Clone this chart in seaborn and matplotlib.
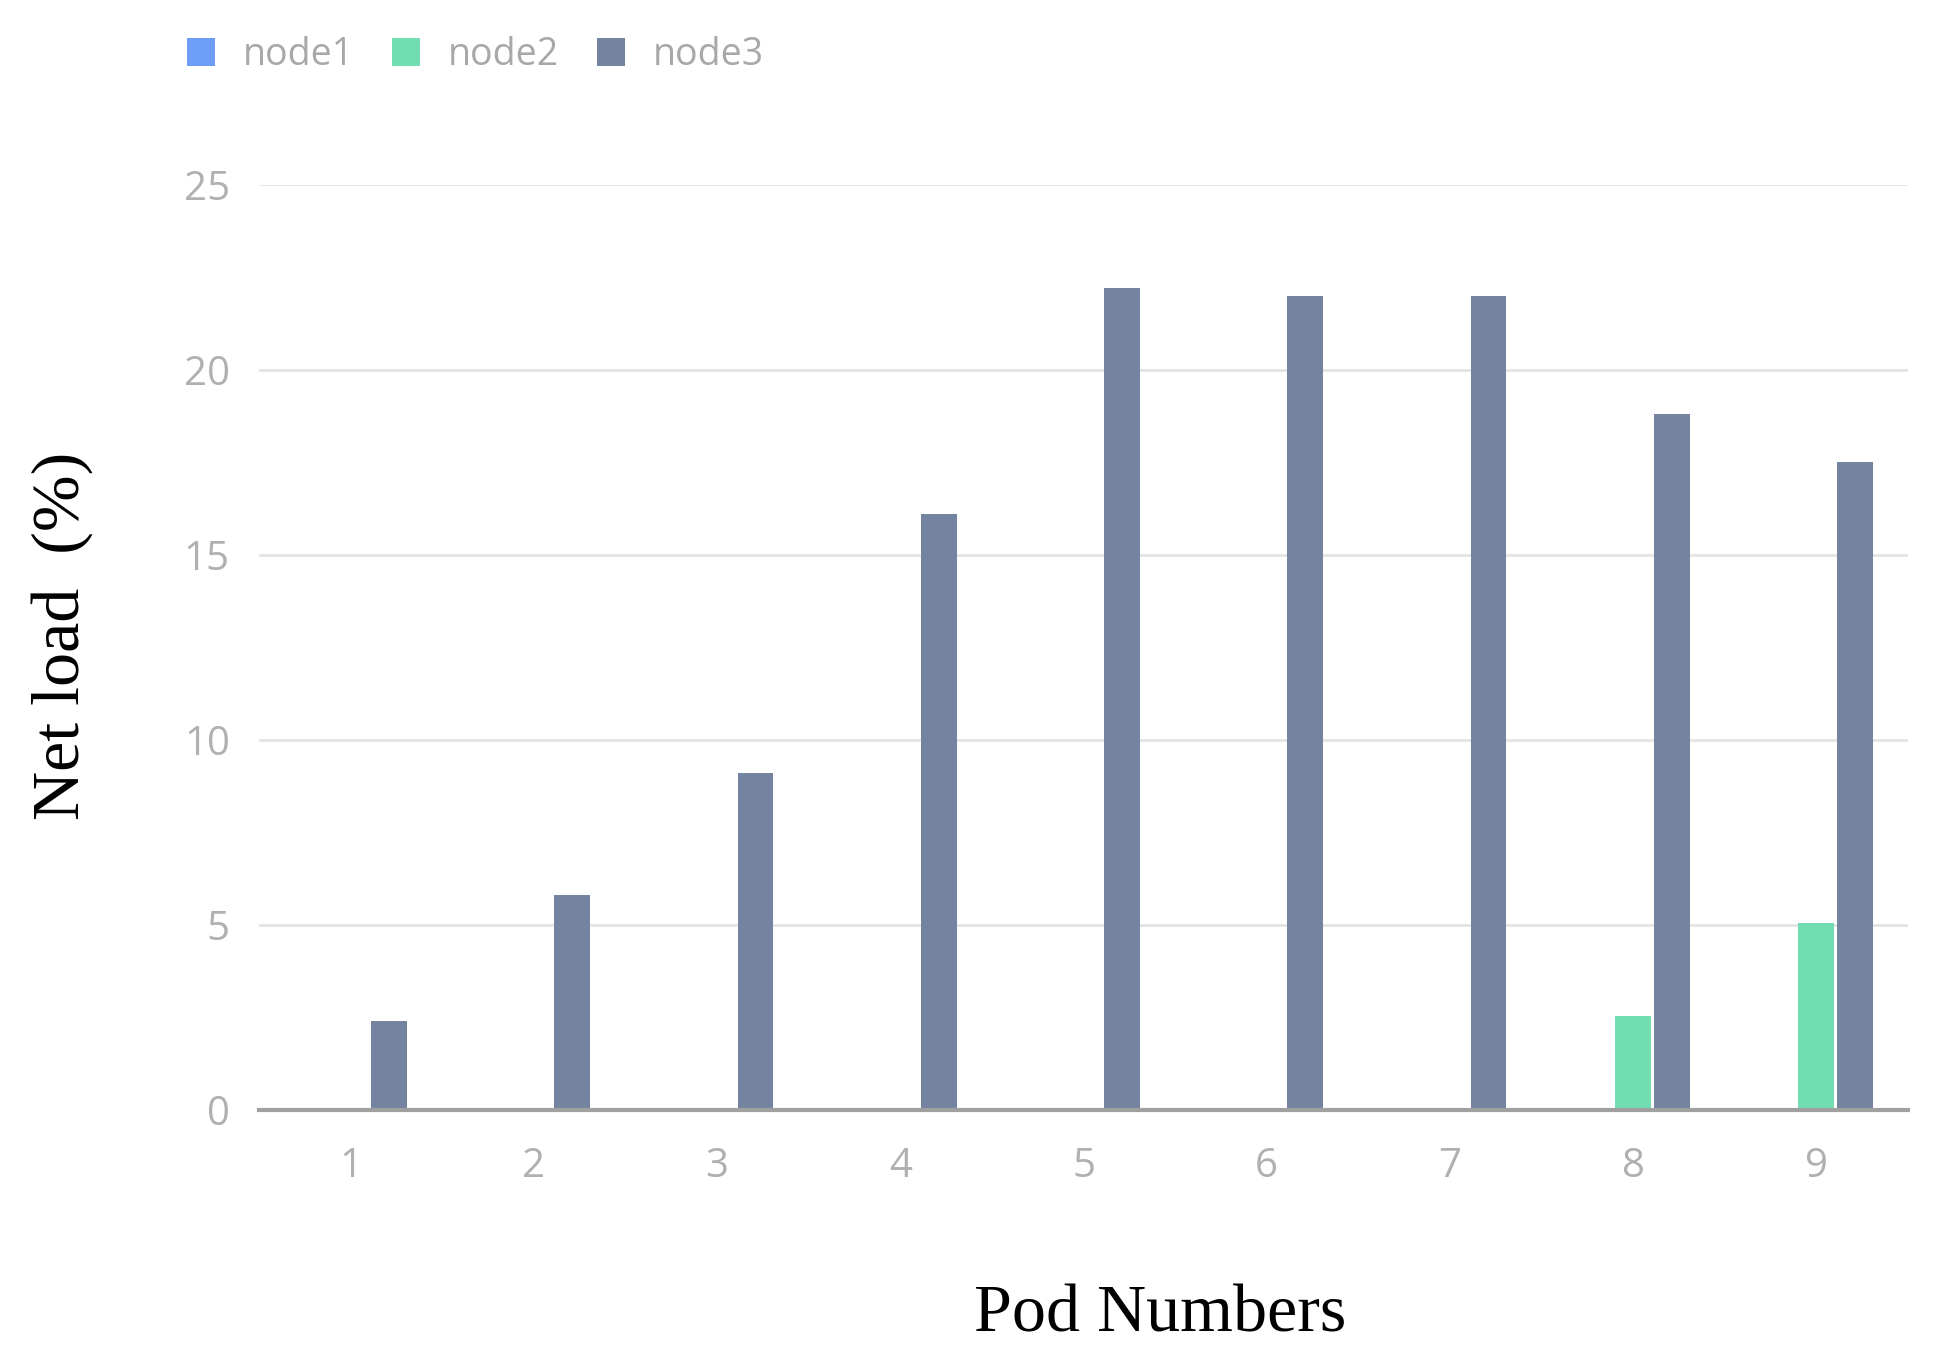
import matplotlib.pyplot as plt
import pandas as pd
import seaborn as sns

# values
pods = [1, 2, 3, 4, 5, 6, 7, 8, 9]
node1 = [0, 0, 0, 0, 0, 0, 0, 0, 0]
node2 = [0, 0, 0, 0, 0, 0, 0, 2.55, 5.05]
node3 = [2.4, 5.8, 9.1, 16.1, 22.2, 22.0, 22.0, 18.8, 17.5]
nodes = ["node1", "node2", "node3"]
colors = ["#6E9EF8", "#72DDB1", "#7483A0"]

df = pd.DataFrame({"pod": pods, "node1": node1, "node2": node2, "node3": node3})
df = df.melt(id_vars="pod", var_name="node", value_name="load")

sns.set_style("white")
plt.rcParams["font.family"] = ["Open Sans", "DejaVu Sans"]

fig = plt.figure(figsize=(19.55, 13.66), dpi=100)
ax = fig.add_axes([259 / 1955, 256 / 1366, (1908 - 259) / 1955, (1110 - 184.5) / 1366])

sns.barplot(
    data=df,
    x="pod",
    y="load",
    hue="node",
    hue_order=nodes,
    palette=colors,
    width=0.63,
    gap=0.07,
    linewidth=0,
    saturation=1,
    ax=ax,
)

ax.set_ylim(0, 25)
ax.set_yticks([0, 5, 10, 15, 20, 25])
ax.yaxis.grid(True, color="#e3e3e3", linewidth=2)
ax.set_axisbelow(True)
for side in ["left", "right", "top"]:
    ax.spines[side].set_visible(False)
ax.spines["bottom"].set_color("#a0a0a0")
ax.spines["bottom"].set_linewidth(3)
ax.tick_params(axis="both", length=0, labelsize=29, labelcolor="#b0b0b0")
ax.tick_params(axis="y", pad=21)
ax.tick_params(axis="x", pad=26)
ax.set_xlabel("")
ax.set_ylabel("")

handles, labels = ax.get_legend_handles_labels()
ax.get_legend().remove()
fig.legend(
    handles,
    labels,
    loc="center left",
    bbox_to_anchor=(187 / 1955, 1 - 55 / 1366),
    ncol=3,
    frameon=False,
    borderpad=0,
    borderaxespad=0,
    fontsize=27,
    labelcolor="#a8a8a8",
    handlelength=0.75,
    handleheight=0.75,
    handletextpad=0.75,
    columnspacing=1.0,
)

fig.text(1160 / 1955, 1 - 1315 / 1366, "Pod Numbers", family="Liberation Serif",
         fontsize=49, ha="center", va="center", color="black")
fig.text(62 / 1955, 1 - 636 / 1366, "Net load  (%)", family="Liberation Serif",
         fontsize=49, ha="center", va="center", rotation=90, color="black")

fig.savefig("out.png", dpi=100)
